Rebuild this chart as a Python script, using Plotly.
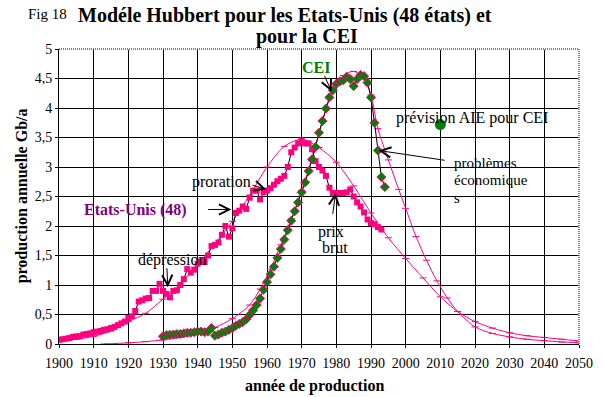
import plotly.graph_objects as go

# ---------------- data ----------------
us_years = list(range(1900, 1994))
us_prod = [0.07, 0.08, 0.09, 0.10, 0.12, 0.13, 0.13, 0.16, 0.17, 0.18,
           0.20, 0.21, 0.22, 0.24, 0.25, 0.27, 0.29, 0.32, 0.35, 0.38,
           0.44, 0.47, 0.56, 0.72, 0.74, 0.77, 0.78, 0.90, 0.90, 1.02,
           0.90, 0.85, 0.79, 0.90, 0.91, 1.00, 1.10, 1.27, 1.21, 1.26,
           1.36, 1.40, 1.39, 1.50, 1.66, 1.68, 1.72, 1.85, 2.00, 1.82,
           1.96, 2.22, 2.26, 2.33, 2.29, 2.48, 2.60, 2.60, 2.45, 2.57,
           2.60, 2.64, 2.70, 2.76, 2.80, 2.85, 3.00, 3.25, 3.33, 3.40,
           3.45, 3.40, 3.40, 3.30, 3.10, 3.00, 2.94, 2.85, 2.65, 2.56,
           2.56, 2.56, 2.56, 2.57, 2.62, 2.50, 2.40, 2.33, 2.23, 2.11,
           2.05, 2.03, 1.98, 1.94]

cei_years = list(range(1930, 1995))
cei_prod = [0.13, 0.15, 0.155, 0.16, 0.17, 0.17, 0.18, 0.19, 0.19, 0.20,
            0.21, 0.21, 0.20, 0.21, 0.27, 0.14, 0.16, 0.19, 0.21, 0.24,
            0.27, 0.31, 0.34, 0.37, 0.42, 0.49, 0.57, 0.66, 0.77, 0.92,
            1.05, 1.18, 1.31, 1.46, 1.61, 1.77, 1.93, 2.09, 2.25, 2.40,
            2.57, 2.74, 2.93, 3.13, 3.34, 3.58, 3.78, 3.99, 4.18, 4.30,
            4.41, 4.45, 4.47, 4.53, 4.49, 4.37, 4.49, 4.56, 4.54, 4.43,
            4.18, 3.75, 3.28, 2.83, 2.66]

us_model_years = [1900, 1905, 1910, 1915, 1920, 1925, 1930, 1935, 1940, 1945,
                  1950, 1955, 1960, 1965, 1970, 1975, 1980, 1985, 1990, 1995,
                  2000, 2005, 2010, 2015, 2020, 2025, 2030, 2035, 2040, 2045, 2050]
us_model = [0.05, 0.08, 0.13, 0.22, 0.38, 0.52, 0.76, 1.02, 1.35, 1.70,
            2.08, 2.52, 3.00, 3.35, 3.47, 3.33, 3.08, 2.68, 2.22, 1.80,
            1.45, 1.12, 0.80, 0.55, 0.38, 0.27, 0.19, 0.14, 0.11, 0.08, 0.05]

cei_model_years = [1913, 1920, 1925, 1930, 1935, 1940, 1945, 1950, 1955, 1958,
                   1961, 1964, 1967, 1970, 1973, 1976, 1979, 1982, 1985, 1988,
                   1990, 1992, 1995, 1998, 2000, 2003, 2006, 2009, 2012, 2015,
                   2020, 2025, 2030, 2035, 2040, 2045, 2050]
cei_model = [0.0, 0.02, 0.04, 0.07, 0.11, 0.17, 0.28, 0.43, 0.66, 0.93,
             1.27, 1.68, 2.12, 2.60, 3.15, 3.78, 4.30, 4.55, 4.62, 4.50,
             4.22, 3.65, 3.12, 2.62, 2.30, 1.82, 1.42, 1.07, 0.78, 0.55,
             0.29, 0.18, 0.12, 0.08, 0.056, 0.035, 0.02]

aie_year = [2010]
aie_value = [3.72]

x_ticks = list(range(1900, 2051, 10))
y_ticks = [0, 0.5, 1, 1.5, 2, 2.5, 3, 3.5, 4, 4.5, 5]

PINK = "#FF0080"
GREEN = "#008000"
PURPLE = "#800080"
FONT = "Times New Roman, Liberation Serif, DejaVu Serif, serif"

fig = go.Figure()

fig.add_trace(go.Scatter(x=us_model_years, y=us_model, mode="lines+markers",
                         line=dict(color=PINK, width=1, shape="spline", smoothing=0.8),
                         marker=dict(symbol="line-ew", size=5, line=dict(color=PINK, width=1)),
                         hoverinfo="skip", showlegend=False))
fig.add_trace(go.Scatter(x=cei_model_years, y=cei_model, mode="lines+markers",
                         line=dict(color=PINK, width=1, shape="spline", smoothing=0.8),
                         marker=dict(symbol="line-ew", size=5, line=dict(color=PINK, width=1)),
                         hoverinfo="skip", showlegend=False))
fig.add_trace(go.Scatter(x=us_years, y=us_prod, mode="lines+markers",
                         line=dict(color="black", width=1),
                         marker=dict(symbol="square", size=6, color=PINK, line=dict(width=0)),
                         showlegend=False))
fig.add_trace(go.Scatter(x=cei_years, y=cei_prod, mode="lines+markers",
                         line=dict(color="black", width=1),
                         marker=dict(symbol="diamond", size=7, color=GREEN,
                                     line=dict(color=PINK, width=1)),
                         showlegend=False))
fig.add_trace(go.Scatter(x=aie_year, y=aie_value, mode="markers",
                         marker=dict(symbol="circle", size=11, color=GREEN),
                         showlegend=False))

anns = []
def txt(x, y, s, size=16, color="black", bold=False, xanchor="center", yanchor="middle", align="center"):
    if bold:
        s = "<b>" + s + "</b>"
    anns.append(dict(x=x, y=y, xref="x", yref="y", text=s, showarrow=False,
                     xanchor=xanchor, yanchor=yanchor, align=align,
                     font=dict(family=FONT, size=size, color=color)))

def arrow(x, y, ax, ay):
    anns.append(dict(x=x, y=y, ax=ax, ay=ay, xref="x", yref="y", axref="x", ayref="y",
                     text="", showarrow=True, arrowhead=5, arrowsize=2, arrowwidth=1,
                     arrowcolor="black"))

txt(1974.0, 4.68, "CEI", size=16, color=GREEN, bold=True)
arrow(1978.6, 4.28, 1976.4, 4.57)
txt(1996.5, 3.83, "prévision AIE pour CEI", size=16, xanchor="left")
txt(2013.5, 3.07, "problèmes", size=15, xanchor="left")
txt(2013.5, 2.78, "économique", size=15, xanchor="left")
txt(2013.5, 2.47, "s", size=15, xanchor="left")
arrow(1992.2, 3.28, 2011.7, 3.11)
txt(1922.1, 2.27, "Etats-Unis (48)", size=16, color=PURPLE, bold=True)
arrow(1949.7, 2.28, 1942.6, 2.28)
txt(1932.7, 1.43, "dépression", size=16)
arrow(1931.4, 0.96, 1931.1, 1.31)
txt(1947.0, 2.74, "proration", size=16)
arrow(1959.8, 2.62, 1955.4, 2.70)
txt(1978.6, 1.90, "prix", size=16)
txt(1979.7, 1.64, "brut", size=16)
arrow(1979.8, 2.56, 1978.9, 2.18)

W, H = 605, 397
def pix(xp, yp, s, size, bold=False, xanchor="center", textangle=0):
    if bold:
        s = "<b>" + s + "</b>"
    anns.append(dict(x=(xp - 59) / 525, y=(344 - yp) / 295, xref="paper", yref="paper",
                     text=s, showarrow=False, xanchor=xanchor, yanchor="middle",
                     textangle=textangle, font=dict(family=FONT, size=size, color="black")))

pix(26, 14, "Fig 18", 15, xanchor="left")
pix(287, 16, "Modéle Hubbert pour les Etats-Unis (48 états) et", 20, bold=True)
pix(309, 37, "pour la CEI", 20, bold=True)
pix(317, 386, "année de production", 16, bold=True)
pix(22, 196, "production annuelle Gb/a", 16, bold=True, textangle=-90)

shapes = [
    dict(type="line", xref="paper", yref="paper", x0=0, x1=1, y0=1, y1=1,
         line=dict(color="white", width=1.5), layer="above"),
    dict(type="line", xref="paper", yref="paper", x0=1, x1=1, y0=0, y1=1,
         line=dict(color="white", width=1.5), layer="above"),
    dict(type="line", xref="paper", yref="paper", x0=0, x1=1, y0=1, y1=1,
         line=dict(color="black", width=1, dash="1px,1px"), layer="above"),
    dict(type="line", xref="paper", yref="paper", x0=1, x1=1, y0=0, y1=1,
         line=dict(color="black", width=1, dash="1px,1px"), layer="above"),
]

fig.update_layout(
    width=W, height=H,
    margin=dict(l=59, r=21, t=49, b=53),
    paper_bgcolor="white", plot_bgcolor="white",
    separators=", ",
    annotations=anns, shapes=shapes,
    font=dict(family=FONT, size=13, color="black"),
    xaxis=dict(range=[1900, 2050], tickvals=x_ticks, showgrid=True, gridcolor="black",
               gridwidth=1, showline=True, linecolor="black", linewidth=1,
               ticks="outside", ticklen=3, tickcolor="black", zeroline=False,
               tickfont=dict(family=FONT, size=14, color="black"), ticklabelstandoff=3),
    yaxis=dict(range=[0, 5], tickvals=y_ticks, showgrid=True, gridcolor="black",
               gridwidth=1, showline=True, linecolor="black", linewidth=1,
               ticks="outside", ticklen=3, tickcolor="black", zeroline=False,
               tickfont=dict(family=FONT, size=14, color="black")),
)

fig.write_html("out.html", config={"displayModeBar": False},
               post_script="document.body.style.margin='0px';")
